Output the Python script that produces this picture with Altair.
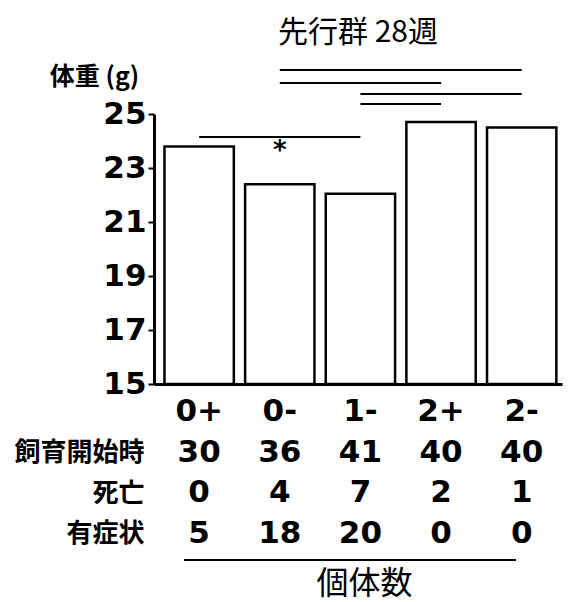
import altair as alt
import pandas as pd

# ---- data ----
groups = ["0+", "0-", "1-", "2+", "2-"]
weights = [23.8, 22.4, 22.05, 24.7, 24.5]          # body weight (g)
n_start = [30, 36, 41, 40, 40]                      # 飼育開始時
n_death = [0, 4, 7, 2, 1]                           # 死亡
n_sympt = [5, 18, 20, 0, 0]                         # 有症状
row_labels = ["飼育開始時", "死亡", "有症状"]
sig_from = ["0-", "0-", "1-", "1-", "0+"]
sig_to = ["2-", "2+", "2-", "2+", "1-"]
sig_level = [26.63, 26.15, 25.74, 25.37, 24.15]
sig_mark = ["", "", "", "", "*"]
y_ticks = [15, 17, 19, 21, 23, 25]

# ---- tables ----
idx = {g: i for i, g in enumerate(groups)}
bars = pd.DataFrame({"group": groups, "i": list(range(len(groups))), "w": weights})
sig = pd.DataFrame({
    "a": [idx[g] for g in sig_from],
    "b": [idx[g] for g in sig_to],
    "lvl": sig_level,
    "m": sig_mark,
})
rows = ["群"] + row_labels
recs = []
for i, g in enumerate(groups):
    recs.append({"row": "群", "i": i, "txt": g})
    for lab, vals in zip(row_labels, [n_start, n_death, n_sympt]):
        recs.append({"row": lab, "i": i, "txt": str(vals[i])})
tbl = pd.DataFrame(recs)

NUM_FONT = "DejaVu Sans"
JP_FONT = "Noto Sans CJK JP"
HALF = 0.43

X = alt.Scale(domain=[-0.56, 4.5], nice=False, zero=False)
Y = alt.Scale(domain=[15, 25], nice=False, zero=False)

bar = alt.Chart(bars).transform_calculate(
    x0=f"datum.i - {HALF}", x1=f"datum.i + {HALF}"
).mark_bar(fill="white", stroke="black", strokeWidth=2.5).encode(
    x=alt.X("x0:Q", scale=X, axis=alt.Axis(
        domain=True, domainColor="black", domainWidth=3, ticks=False,
        labels=False, grid=False, title=None)),
    x2="x1:Q",
    y=alt.Y("w:Q", scale=Y, axis=alt.Axis(
        values=y_ticks, grid=False, domain=True, domainColor="black", domainWidth=3,
        ticks=True, tickColor="black", tickWidth=2, tickSize=6,
        labelFont=NUM_FONT, labelFontWeight="bold", labelFontSize=31, labelColor="black",
        labelPadding=2,
        title="体重 (g)", titleAngle=0, titleFont=JP_FONT, titleFontSize=25,
        titleFontWeight="bold", titleColor="black", titleAlign="center",
        titleBaseline="alphabetic", titleX=-60, titleY=-30)),
    y2=alt.datum(15),
)

rules = alt.Chart(sig).mark_rule(color="black", strokeWidth=2).encode(
    x=alt.X("a:Q", scale=X),
    x2="b:Q",
    y=alt.Y("lvl:Q", scale=Y),
)

star = alt.Chart(sig).transform_filter("datum.m != ''").transform_calculate(
    mid="(datum.a + datum.b) / 2"
).mark_text(font=NUM_FONT, fontSize=26, fontWeight="bold", color="black",
            baseline="middle", dy=14).encode(
    x=alt.X("mid:Q", scale=X),
    y=alt.Y("lvl:Q", scale=Y),
    text="m:N",
)

top = alt.layer(bar, rules, star).properties(
    width=408, height=270,
    title=alt.TitleParams("先行群 28週", font=JP_FONT, fontSize=30, fontWeight="normal",
                          color="black", anchor="middle", frame="group", offset=16),
)

table_text = alt.Chart(tbl).mark_text(
    font=NUM_FONT, fontSize=31, fontWeight="bold", color="black", baseline="middle"
).encode(
    x=alt.X("i:Q", scale=X, axis=alt.Axis(
        domain=False, ticks=False, labels=False, grid=False,
        title="個体数", titleFont=JP_FONT, titleFontSize=32, titleFontWeight="normal",
        titleColor="black", titlePadding=14, titleX=210)),
    y=alt.Y("row:N", scale=alt.Scale(domain=rows, padding=0.5), axis=alt.Axis(
        domain=False, ticks=False, grid=False,
        labelExpr="datum.value == '群' ? '' : datum.value",
        labelFont=JP_FONT, labelFontSize=26, labelFontWeight="bold", labelColor="black",
        labelPadding=10, title=None)),
    text="txt:N",
)

underline = alt.Chart(pd.DataFrame({"k": [0]})).mark_rule(color="black", strokeWidth=2).encode(
    x=alt.value(30), x2=alt.value(362), y=alt.value(168)
)

table = alt.layer(table_text, underline).properties(width=408, height=162)

chart = alt.vconcat(top, table, spacing=8, bounds="flush").properties(
    padding={"left": 5, "top": 10, "right": 5, "bottom": 4}
).configure_view(stroke=None)

chart.save("out.html", embed_options={"renderer": "svg", "actions": False})
